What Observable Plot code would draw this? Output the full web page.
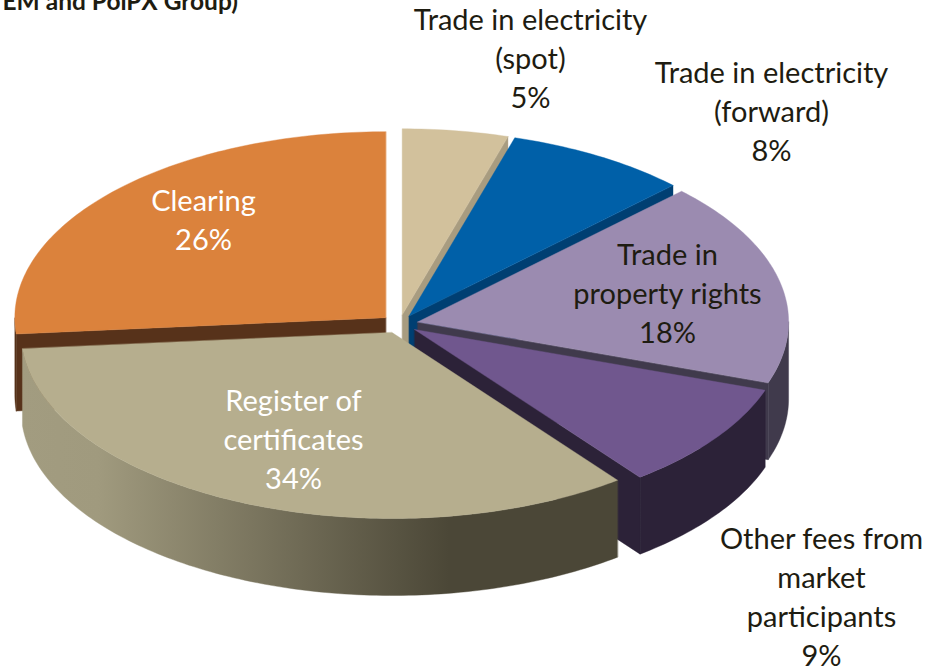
<!DOCTYPE html>
<html>
<head>
<meta charset="utf-8">
<script src="https://cdn.jsdelivr.net/npm/d3@7"></script>
<script src="https://cdn.jsdelivr.net/npm/@observablehq/plot@0.6"></script>
<style>
html,body{margin:0;padding:0;background:#fff;overflow:hidden}
svg{display:block}
</style>
</head>
<body>
<div id="chart"></div>
<script>
// Data, in chart order (clockwise from 12 o'clock)
const categories = ["Trade in electricity\n(spot)", "Trade in electricity\n(forward)", "Trade in\nproperty rights", "Other fees from\nmarket\nparticipants", "Register of\ncertificates", "Clearing"];
const shares = [4.6, 8.0, 17.7, 9.3, 34.0, 26.4];
const title = "EM and PolPX Group)";

// Styles
const topColors = ["#d2c19c", "#0060a8", "#9b8bb0", "#70578e", "#b6ae8e", "#db823c"];
const sideColors = ["#a89c80", "#003f72", "#403a4c", "#2c2238", "url(#wallGrad)", "#57321a"];
const labelColors = ["#1e1c11", "#1e1c11", "#1e1c11", "#1e1c11", "#ffffff", "#ffffff"];

// Layout
const W = 926, H = 669;
const cx = 399, cy = 323.5, rx = 371, ry = 186, depth = 77, explode = 0.05;
const labelX = [530, 771, 667, 821, 293, 203];
const labelY = [56, 109, 291, 595, 437, 218];

const rad = d => d * Math.PI / 180;
let acc = 0;
const slices = shares.map((v, i) => {
  const a0 = acc * 3.6; acc += v; const a1 = acc * 3.6; const mid = rad((a0 + a1) / 2);
  return {i, a0, a1,
    ax: cx + explode * rx * Math.sin(mid),
    ay: cy - explode * ry * Math.cos(mid)};
});
const rim = (s, a) => ({x: s.ax + rx * Math.sin(rad(a)), y: s.ay - ry * Math.cos(rad(a))});
const arc = (s, a0, a1) => d3.range(0, 1.0001, 1 / Math.max(2, Math.ceil(Math.abs(a1 - a0)))).map(t => rim(s, a0 + (a1 - a0) * t));
const down = p => ({x: p.x, y: p.y + depth});

function topFace(s) { return [{x: s.ax, y: s.ay}, ...arc(s, s.a0, s.a1)]; }
function wallFace(s) {
  const a0 = Math.max(s.a0, 90), a1 = Math.min(s.a1, 270);
  if (a1 <= a0) return null;
  const top = arc(s, a0, a1);
  return [...top, ...top.slice().reverse().map(down)];
}
function endCut(s, a) { // radial cut face from apex to the rim at angle a
  const p = {x: s.ax, y: s.ay}, q = rim(s, a);
  return [p, q, down(q), down(p)];
}

// Painter's order: back to front
const faces = [];
const add = (pts, fill) => { if (pts) faces.push({pts, fill}); };
const [spot, forward, property, other, register, clearing] = slices;
add(wallFace(clearing), sideColors[5]);
add(endCut(clearing, clearing.a0), sideColors[5]);
add(topFace(clearing), topColors[5]);
add(endCut(spot, spot.a1), sideColors[0]);
add(topFace(spot), topColors[0]);
add(endCut(forward, forward.a1), sideColors[1]);
add(topFace(forward), topColors[1]);
add(wallFace(property), sideColors[2]);
add(endCut(property, property.a1), sideColors[2]);
add(topFace(property), topColors[2]);
add(wallFace(other), sideColors[3]);
add(endCut(other, other.a1), sideColors[3]);
add(topFace(other), topColors[3]);
add(wallFace(register), sideColors[4]);
add(topFace(register), topColors[4]);

const labels = slices.map(s => ({
  text: categories[s.i] + "\n" + Math.round(shares[s.i]) + "%",
  x: labelX[s.i], y: labelY[s.i], color: labelColors[s.i]
}));

const gradient = () => {
  const defs = d3.create("svg:defs");
  const g = defs.append("linearGradient").attr("id", "wallGrad")
    .attr("gradientUnits", "userSpaceOnUse")
    .attr("x1", 20).attr("x2", 615).attr("y1", 0).attr("y2", 0);
  [[0, "#a29c80"], [0.13, "#a09a7e"], [0.72, "#4b4737"], [1, "#4b4737"]].forEach(([o, c]) =>
    g.append("stop").attr("offset", o).attr("stop-color", c));
  return defs.node();
};

const plot = Plot.plot({
  width: W, height: H,
  margin: 0,
  x: {domain: [0, W], range: [0, W], axis: null},
  y: {domain: [0, H], range: [0, H], axis: null},
  style: {background: "#fff", fontFamily: "Lato, sans-serif"},
  marks: [
    gradient,
    ...faces.map(f => Plot.line(f.pts, {x: "x", y: "y", fill: f.fill, stroke: f.fill, strokeWidth: 0.4, curve: "linear-closed"})),
    Plot.text(labels, {x: "x", y: "y", text: "text", fill: "color", fontSize: 29, lineHeight: 1.345, textAnchor: "middle", lineAnchor: "middle"}),
    Plot.text([title], {x: 2, y: 9, text: d => d, fill: "#1e1c11", fontSize: 24.5, fontWeight: "bold", textAnchor: "start", lineAnchor: "bottom", fontFamily: "Lato"})
  ]
});
document.getElementById("chart").appendChild(plot);
</script>
</body>
</html>
